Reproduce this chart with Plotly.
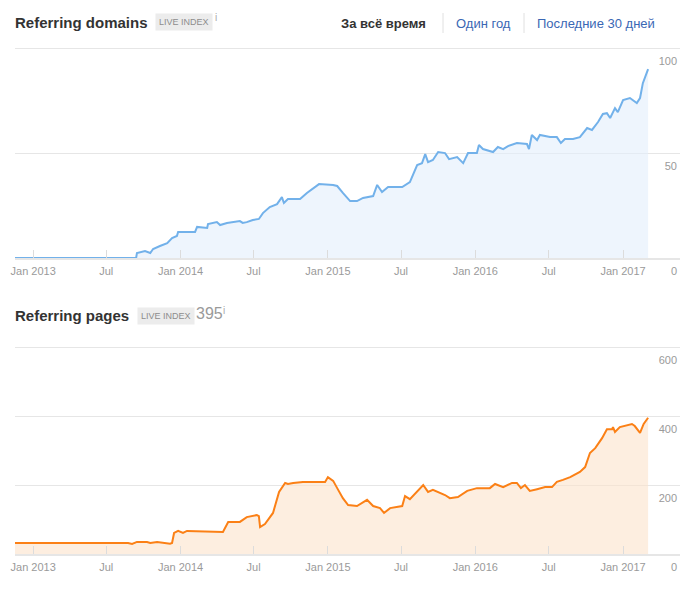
import plotly.graph_objects as go

# ---------------- data ----------------
domain_dates = [
    "2012-11-17", "2013-09-13", "2013-09-15", "2013-10-05", "2013-10-18", "2013-10-25",
    "2013-11-11", "2013-11-29", "2013-12-11", "2013-12-23", "2013-12-26", "2014-02-06",
    "2014-02-11", "2014-03-08", "2014-03-10", "2014-04-01", "2014-04-09", "2014-04-26",
    "2014-05-28", "2014-06-04", "2014-06-14", "2014-06-29", "2014-07-14", "2014-07-24",
    "2014-08-10", "2014-08-28", "2014-09-09", "2014-09-14", "2014-09-24", "2014-10-24",
    "2014-11-10", "2014-11-25", "2014-12-10", "2015-01-14", "2015-01-24", "2015-02-07",
    "2015-02-25", "2015-03-14", "2015-03-29", "2015-04-23", "2015-05-03", "2015-05-15",
    "2015-05-30", "2015-07-04", "2015-07-23", "2015-08-10", "2015-08-22", "2015-08-30",
    "2015-09-06", "2015-09-18", "2015-10-01", "2015-10-18", "2015-10-28", "2015-11-17",
    "2015-12-02", "2015-12-14", "2016-01-05", "2016-01-10", "2016-01-20", "2016-02-14",
    "2016-02-26", "2016-03-10", "2016-03-22", "2016-04-13", "2016-05-08", "2016-05-13",
    "2016-05-20", "2016-06-02", "2016-06-09", "2016-07-04", "2016-07-21", "2016-07-31",
    "2016-08-10", "2016-08-30", "2016-09-16", "2016-10-04", "2016-10-16", "2016-10-31",
    "2016-11-12", "2016-11-22", "2016-11-30", "2016-12-12", "2016-12-19", "2017-01-01",
    "2017-01-18", "2017-02-04", "2017-02-12", "2017-02-19", "2017-02-24", "2017-03-04",
]
domain_values = [
    0, 0, 2.4, 3.3, 2.4, 4.3,
    5.7, 7.1, 9.5, 10.5, 12.4, 12.4,
    14.8, 14.3, 16.2, 17.1, 15.7, 16.7,
    17.6, 16.7, 17.1, 18.1, 18.6, 21.4,
    24.3, 25.7, 29.0, 26.2, 28.1, 28.1,
    31.0, 32.9, 35.2, 34.8, 34.3, 31.0,
    27.1, 27.1, 28.6, 29.5, 34.8, 31.4,
    33.8, 33.8, 36.2, 44.3, 45.2, 49.5,
    45.7, 46.7, 50.5, 50.0, 47.1, 48.1,
    45.2, 50.0, 50.0, 53.8, 51.9, 50.5,
    52.9, 51.9, 53.3, 54.8, 54.3, 51.9,
    58.6, 56.2, 58.6, 57.6, 57.6, 54.8,
    56.7, 56.7, 57.6, 61.9, 61.0, 64.8,
    68.6, 69.0, 66.7, 71.4, 69.5, 75.2,
    76.2, 73.8, 76.2, 83.3, 85.7, 90.0,
]

pages_dates = [
    "2012-11-17", "2013-08-24", "2013-09-03", "2013-09-15", "2013-10-10", "2013-10-18",
    "2013-11-04", "2013-12-06", "2013-12-11", "2013-12-16", "2013-12-26", "2014-01-07",
    "2014-01-17", "2014-04-16", "2014-04-29", "2014-05-28", "2014-06-14", "2014-07-09",
    "2014-07-14", "2014-07-17", "2014-07-29", "2014-08-18", "2014-09-02", "2014-09-17",
    "2014-09-24", "2014-10-07", "2014-10-31", "2014-12-05", "2014-12-25", "2015-01-01",
    "2015-01-14", "2015-01-24", "2015-02-07", "2015-02-20", "2015-03-14", "2015-04-08",
    "2015-04-23", "2015-05-10", "2015-05-20", "2015-06-04", "2015-07-04", "2015-07-11",
    "2015-07-23", "2015-08-25", "2015-09-06", "2015-09-18", "2015-10-18", "2015-10-30",
    "2015-11-19", "2015-12-12", "2016-01-05", "2016-02-06", "2016-02-19", "2016-03-10",
    "2016-04-01", "2016-04-13", "2016-04-23", "2016-05-03", "2016-05-15", "2016-06-02",
    "2016-06-22", "2016-07-09", "2016-07-21", "2016-08-05", "2016-08-23", "2016-09-16",
    "2016-09-29", "2016-10-11", "2016-10-24", "2016-11-10", "2016-11-22", "2016-12-05",
    "2016-12-07", "2016-12-12", "2016-12-24", "2017-01-23", "2017-01-30", "2017-02-12",
    "2017-02-21", "2017-03-04",
]
pages_values = [
    32, 32, 29, 35, 35, 32,
    35, 30, 32, 61, 67, 61,
    67, 64, 93, 93, 107, 113,
    110, 78, 87, 119, 180, 206,
    203, 206, 209, 209, 209, 223,
    212, 191, 162, 142, 139, 157,
    139, 133, 119, 133, 139, 168,
    159, 200, 180, 186, 171, 162,
    165, 183, 191, 191, 203, 194,
    206, 206, 191, 200, 183, 188,
    194, 194, 209, 215, 223, 238,
    252, 293, 307, 336, 362, 362,
    368, 354, 368, 377, 371, 351,
    377, 395,
]

tick_dates = ["2013-01-01", "2013-07-01", "2014-01-01", "2014-07-01", "2015-01-01",
              "2015-07-01", "2016-01-01", "2016-07-01", "2017-01-01"]
tick_labels = ["Jan 2013", "Jul", "Jan 2014", "Jul", "Jan 2015", "Jul", "Jan 2016", "Jul", "Jan 2017"]
domain_ticks = [0, 50, 100]
pages_ticks = [0, 200, 400, 600]
pages_total = "395"

# ---------------- layout helpers ----------------
# the page body has an 8px margin, so the figure is drawn 8px in from the window edge
OFF = 8
W, H = 690 - 2 * OFF, 590 - 2 * OFF
def px(x):
    return (x - OFF) / W
def py(y):
    return 1 - (y - OFF) / H

FONT = "Liberation Sans, Arial, sans-serif"
x_range = ["2012-11-17", "2017-05-22"]

fig = go.Figure()
fig.add_trace(go.Scatter(
    x=domain_dates, y=domain_values, mode="lines",
    line=dict(color="#72b1ea", width=2), fill="tozeroy",
    fillcolor="rgba(226,238,252,0.6)", xaxis="x", yaxis="y", hoverinfo="skip"))
fig.add_trace(go.Scatter(
    x=pages_dates, y=pages_values, mode="lines",
    line=dict(color="#fb8016", width=2), fill="tozeroy",
    fillcolor="rgba(252,226,204,0.6)", xaxis="x2", yaxis="y2", hoverinfo="skip"))

xcommon = dict(
    range=x_range, tickvals=tick_dates, ticktext=tick_labels,
    ticks="inside", ticklen=8, tickwidth=1, tickcolor="#dcdcdc",
    showline=True, linecolor="#e6e6e6", linewidth=2,
    showgrid=False, zeroline=False, automargin=False,
    ticklabelstandoff=2,
    tickfont=dict(family=FONT, size=11, color="#9a9a9a"),
    fixedrange=True,
)
ycommon = dict(
    side="right", ticklabelposition="inside", ticklabelshift=13,
    ticklabeloverflow="allow", ticks="", automargin=False,
    showgrid=True, gridcolor="#e6e6e6", gridwidth=1,
    zeroline=False, showline=False,
    tickfont=dict(family=FONT, size=11, color="#9a9a9a"),
    fixedrange=True,
)

fig.update_layout(
    template="none",
    width=W, height=H,
    margin=dict(l=0, r=0, t=0, b=0, autoexpand=False),
    paper_bgcolor="white", plot_bgcolor="white",
    showlegend=False,
    xaxis=dict(domain=[px(15), px(680)], anchor="y", **xcommon),
    yaxis=dict(domain=[py(258), py(46)], anchor="x", range=[0, 101],
               tickvals=domain_ticks, **ycommon),
    xaxis2=dict(domain=[px(15), px(680)], anchor="y2", **xcommon),
    yaxis2=dict(domain=[py(554), py(345)], anchor="x2", range=[0, 606],
                tickvals=pages_ticks, **ycommon),
)

ann = []
def text(x, y, t, size, color, bold=False, xanchor="left", bg=None, pad=0):
    ann.append(dict(
        x=px(x), y=py(y), xref="paper", yref="paper", text=("<b>%s</b>" % t) if bold else t,
        showarrow=False, xanchor=xanchor, yanchor="middle",
        font=dict(family=FONT, size=size, color=color),
        bgcolor=bg, borderpad=pad))

# top header
text(14, 22, "Referring domains", 15, "#333333", bold=True)
text(155, 22, "LIVE INDEX", 9, "#8c8c8c", bg="#ececec", pad=3)
text(214, 18, "i", 10, "#aaaaaa")
text(340, 23, "За всё время", 13, "#333333", bold=True)
text(455, 23, "Один год", 13, "#3a67b4")
text(536, 23, "Последние 30 дней", 13, "#3a67b4")

# bottom header
text(14, 315, "Referring pages", 15, "#333333", bold=True)
text(137, 316, "LIVE INDEX", 9, "#8c8c8c", bg="#ececec", pad=3)
text(195, 314, pages_total, 16, "#9a9a9a")
text(222, 310, "i", 10, "#aaaaaa")

fig.update_layout(annotations=ann)

shapes = []
for sx in (443, 524):
    shapes.append(dict(type="line", xref="paper", yref="paper",
                       x0=px(sx), x1=px(sx), y0=py(13), y1=py(33),
                       line=dict(color="#e0e0e0", width=1)))
fig.update_layout(shapes=shapes)

fig.write_html("out.html")
